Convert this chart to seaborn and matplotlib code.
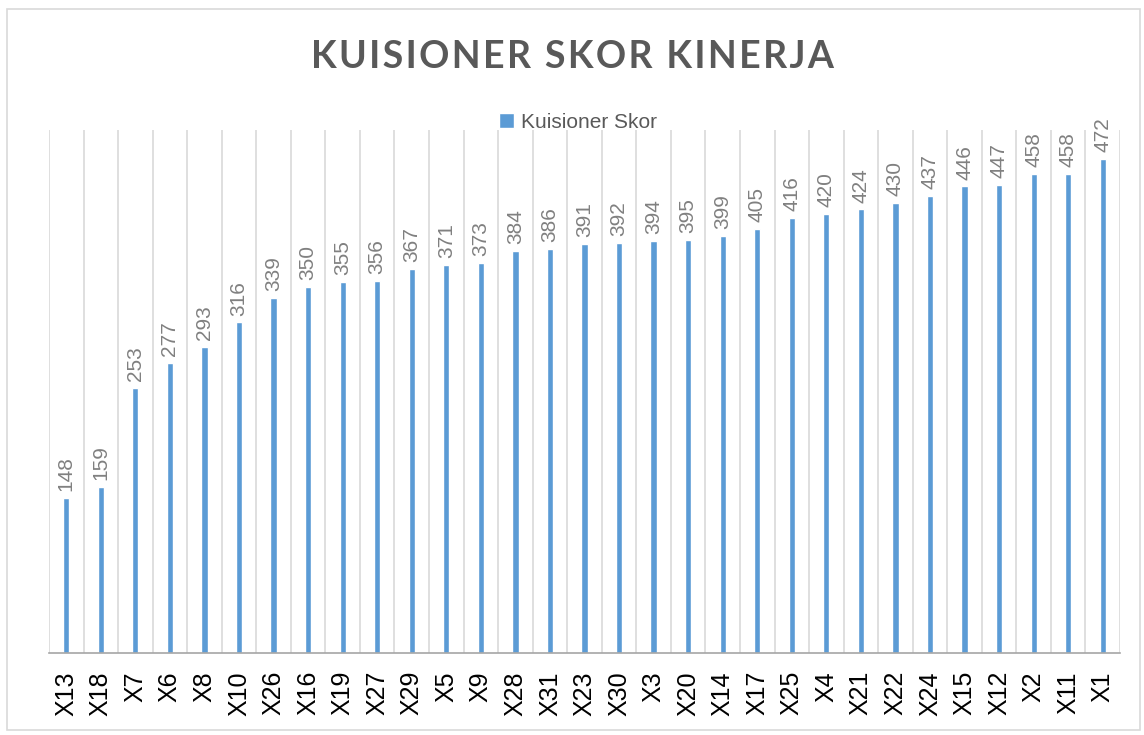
import matplotlib
matplotlib.use('Agg')
import matplotlib.pyplot as plt
from matplotlib.patches import Rectangle
import pandas as pd
import seaborn as sns

# data
kode = ['X13', 'X18', 'X7', 'X6', 'X8', 'X10', 'X26', 'X16', 'X19', 'X27', 'X29',
        'X5', 'X9', 'X28', 'X31', 'X23', 'X30', 'X3', 'X20', 'X14', 'X17', 'X25',
        'X4', 'X21', 'X22', 'X24', 'X15', 'X12', 'X2', 'X11', 'X1']
skor = [148, 159, 253, 277, 293, 316, 339, 350, 355, 356, 367,
        371, 373, 384, 386, 391, 392, 394, 395, 399, 405, 416,
        420, 424, 430, 437, 446, 447, 458, 458, 472]
judul = 'KUISIONER SKOR KINERJA'

df = pd.DataFrame({'Kode': kode, 'Kuisioner Skor': skor})

sns.set_style('white')
plt.rcParams['font.family'] = ['Liberation Sans', 'DejaVu Sans']

fig = plt.figure(figsize=(11.44, 7.35), dpi=100)
ax = fig.add_axes([49 / 1144, 82 / 735, 1071 / 1144, 523 / 735])

sns.barplot(data=df, x='Kode', y='Kuisioner Skor', color='#5B9BD5', width=0.18,
            saturation=1, order=kode, ax=ax, label='Kuisioner Skor')

# value labels above each bar
for i, v in enumerate(skor):
    ax.annotate(str(v), (i, v), xytext=(0, 5), textcoords='offset points',
                rotation=90, ha='center', va='bottom', fontsize=15, color='#808080')

ax.set_xlim(-0.5, len(kode) - 0.5)
ax.set_ylim(0, 500)
ax.set_yticks([])
ax.set_xlabel('')
ax.set_ylabel('')

# vertical gridlines between categories
ax.set_xticks([i + 0.5 for i in range(-1, len(kode))], minor=True)
ax.grid(True, which='minor', axis='x', color='#D9D9D9', linewidth=1.2)
ax.tick_params(axis='x', which='both', length=0)
ax.tick_params(axis='x', which='major', labelsize=18, labelrotation=90, pad=13,
               labelcolor='black')

for s in ['top', 'right', 'left']:
    ax.spines[s].set_visible(False)
ax.spines['bottom'].set_color('#A6A6A6')
ax.spines['bottom'].set_linewidth(1.2)

# letter-spaced title (hair spaces between letters)
spaced = '\u200a'.join(judul)
fig.text(0.5, 1 - 57 / 735, spaced, ha='center', va='center',
         fontsize=27, fontweight='bold', color='#595959',
         family=['Lato', 'DejaVu Sans'])

leg = ax.legend(loc='center', bbox_to_anchor=(0.505, 1 - 122 / 735), bbox_transform=fig.transFigure,
                frameon=False, fontsize=15, handlelength=0.75, handleheight=0.75,
                handletextpad=0.3, labelcolor='#595959')

fig.patches.append(Rectangle((7 / 1144, 5 / 735), 1133 / 1144, 721 / 735,
                             transform=fig.transFigure, fill=False,
                             edgecolor='#D9D9D9', linewidth=1.2))

fig.savefig('out.png', dpi=100)
